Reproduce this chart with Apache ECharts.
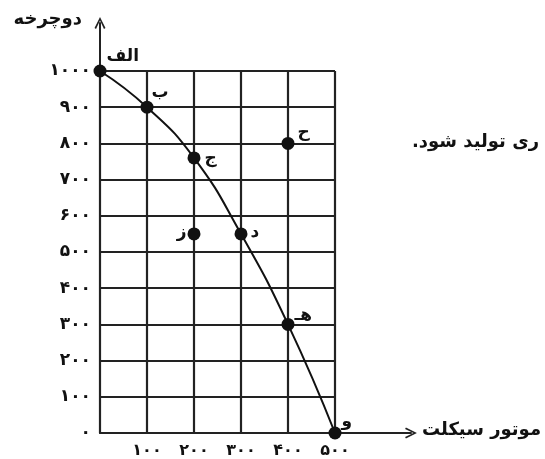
<!DOCTYPE html>
<html>
<head>
<meta charset="utf-8">
<script src="https://cdn.jsdelivr.net/npm/echarts@6/dist/echarts.min.js"></script>
<style>
  html, body { margin: 0; padding: 0; background: #fff; }
  #chart { width: 545px; height: 459px; }
</style>
</head>
<body>
<div id="chart"></div>
<script>
// frontier points (motorcycle, bicycle)
const frontierNames = ['الف', 'ب', 'ج', 'د', 'هـ', 'و']
const frontierX = [0, 100, 200, 300, 400, 500]
const frontierY = [1000, 900, 760, 550, 300, 0]
// points off the frontier
const otherNames = ['ز', 'ح']
const otherX = [200, 400]
const otherY = [550, 800]
// axis ticks
const xTicks = [0, 100, 200, 300, 400, 500]
const yTicks = [0, 100, 200, 300, 400, 500, 600, 700, 800, 900, 1000]
const xTitle = 'موتور سیکلت'
const yTitle = 'دوچرخه'
const sideText = 'ری تولید شود.'

const FONT = 'DejaVu Sans'
const faDigits = '۰۱۲۳۴۵۶۷۸۹'
function toFa(v) {
  return String(v).replace(/[0-9]/g, d => faDigits[+d])
}

// label placement for each point
const labelPos = {
  'الف': {position: 'right', distance: 0, offset: [0, -14]},
  'ب': {position: 'right', distance: 0, offset: [-2, -15]},
  'ج': {position: 'right', distance: 4, offset: [0, 1]},
  'د': {position: 'right', distance: 3, offset: [0, -1]},
  'هـ': {position: 'right', distance: 0, offset: [0, -9]},
  'و': {position: 'right', distance: 0, offset: [0, -11]},
  'ز': {position: 'left', distance: 1, offset: [0, -1]},
  'ح': {position: 'right', distance: 3, offset: [0, -11]}
}

function pointData(names, xs, ys) {
  return names.map((n, i) => ({
    name: n,
    value: [xs[i], ys[i]],
    label: labelPos[n]
  }))
}

const chevron = 'path://M0,10 L5,0 L10,10 L8.6,10.8 L5,3.2 L1.4,10.8 Z'
const pointLabel = {show: true, formatter: '{b}', color: '#111', fontFamily: FONT, fontWeight: 'bold', fontSize: 17}

let chart = echarts.init(document.getElementById('chart'))
let option = {
  animation: false,
  backgroundColor: '#fff',
  grid: [
    {left: 100, right: 210, top: 71, bottom: 26},
    {left: 100, right: 134, top: 23, bottom: 26}
  ],
  xAxis: [
    {
      type: 'value', gridIndex: 0, min: 0, max: 500, interval: 100,
      axisLine: {show: false}, axisTick: {show: false},
      splitLine: {show: true, lineStyle: {color: '#222', width: 2.2}},
      axisLabel: {
        margin: 10, color: '#111', fontFamily: FONT, fontWeight: 'bold', fontSize: 16,
        formatter: v => (v === 0 ? '' : toFa(v))
      }
    },
    {
      type: 'value', gridIndex: 1, min: 0, max: 100,
      axisLine: {
        show: true, symbol: ['none', chevron], symbolSize: [11, 12],
        lineStyle: {color: '#222', width: 2}
      },
      axisTick: {show: false}, axisLabel: {show: false}, splitLine: {show: false}
    }
  ],
  yAxis: [
    {
      type: 'value', gridIndex: 0, min: 0, max: 1000, interval: 100,
      axisLine: {show: false}, axisTick: {show: false},
      splitLine: {show: true, lineStyle: {color: '#222', width: 2.2}},
      axisLabel: {
        margin: 9, color: '#111', fontFamily: FONT, fontWeight: 'bold', fontSize: 17,
        formatter: v => toFa(v)
      }
    },
    {
      type: 'value', gridIndex: 1, min: 0, max: 100,
      axisLine: {
        show: true, symbol: ['none', chevron], symbolSize: [11, 12],
        lineStyle: {color: '#222', width: 2}
      },
      axisTick: {show: false}, axisLabel: {show: false}, splitLine: {show: false}
    }
  ],
  graphic: [
    {
      type: 'text', right: 463, top: 10,
      style: {text: yTitle + '\u200F', font: 'bold 18px "DejaVu Sans"', fill: '#111'}
    },
    {
      type: 'text', left: 422, top: 421,
      style: {text: xTitle + '\u200F', font: 'bold 18px "DejaVu Sans"', fill: '#111'}
    },
    {
      type: 'text', left: 412, top: 133,
      style: {text: sideText + '\u200F', font: 'bold 18px "DejaVu Sans"', fill: '#111'}
    }
  ],
  series: [
    {
      type: 'line', xAxisIndex: 0, yAxisIndex: 0,
      data: pointData(frontierNames, frontierX, frontierY),
      smooth: 0.5,
      symbol: 'circle', symbolSize: 13,
      itemStyle: {color: '#111', opacity: 1},
      lineStyle: {color: '#111', width: 2},
      label: pointLabel,
      z: 5
    },
    {
      type: 'scatter', xAxisIndex: 0, yAxisIndex: 0,
      data: pointData(otherNames, otherX, otherY),
      symbol: 'circle', symbolSize: 13,
      itemStyle: {color: '#111', opacity: 1},
      label: pointLabel,
      z: 5
    }
  ]
}
chart.setOption(option)
</script>
</body>
</html>
